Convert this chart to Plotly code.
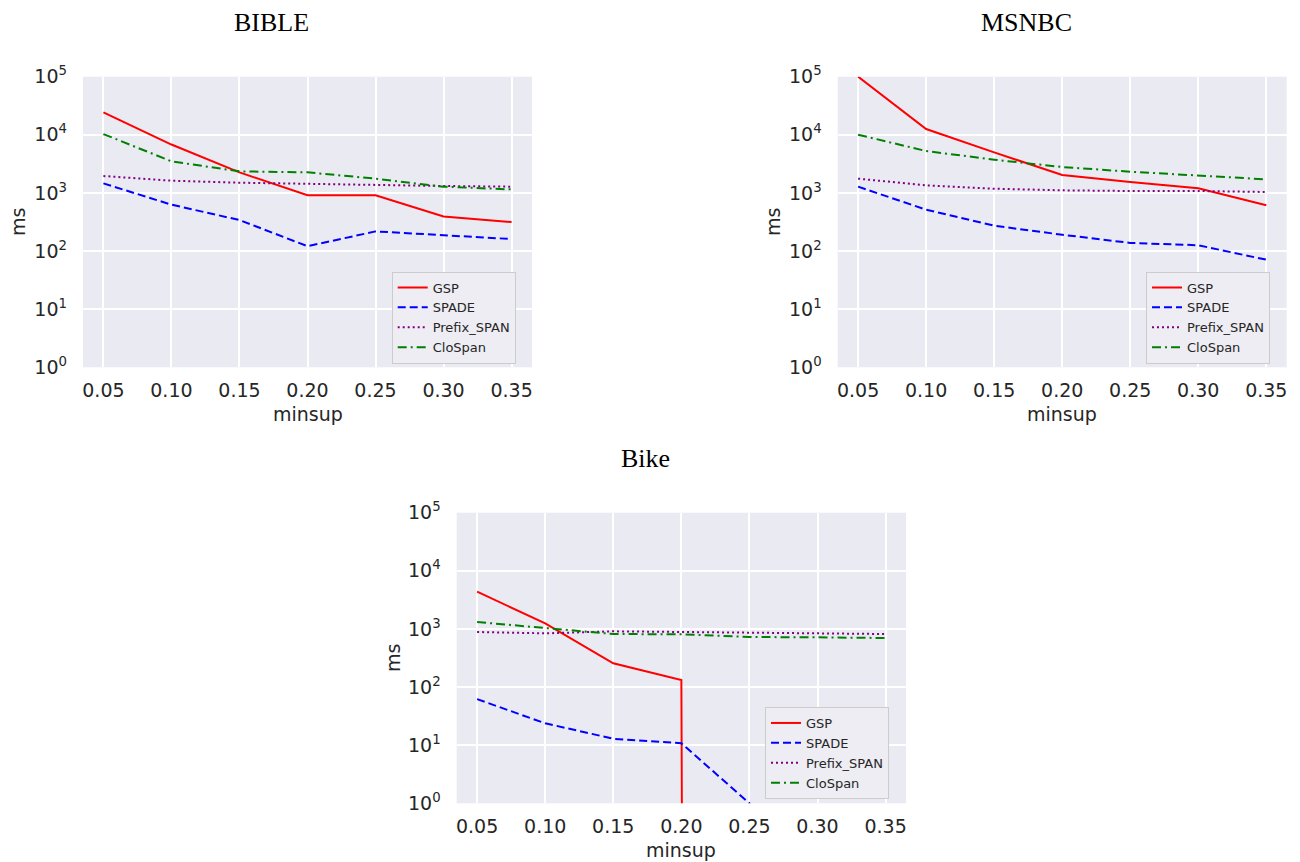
import plotly.graph_objects as go

# ---------------- data ----------------
minsup = [0.05, 0.10, 0.15, 0.20, 0.25, 0.30, 0.35]
x_tick_labels = ["0.05", "0.10", "0.15", "0.20", "0.25", "0.30", "0.35"]
y_tick_vals = [1, 10, 100, 1000, 10000, 100000]
y_tick_labels = ["10<sup>0</sup>", "10<sup>1</sup>", "10<sup>2</sup>",
                 "10<sup>3</sup>", "10<sup>4</sup>", "10<sup>5</sup>"]

algorithms = ["GSP", "SPADE", "Prefix_SPAN", "CloSpan"]
panel_titles = ["BIBLE", "MSNBC", "Bike"]

bible_gsp = [24300, 6800, 2260, 910, 910, 395, 316]
bible_spade = [1460, 628, 342, 121, 218, 189, 161]
bible_prefix = [1955, 1625, 1500, 1425, 1387, 1316, 1282]
bible_clospan = [10300, 3500, 2350, 2260, 1760, 1280, 1150]

msnbc_gsp = [100000, 12600, 4990, 2030, 1540, 1200, 612]
msnbc_spade = [1282, 515, 273, 191, 138, 126, 71]
msnbc_prefix = [1760, 1350, 1183, 1109, 1080, 1080, 1038]
msnbc_clospan = [10040, 5260, 3730, 2790, 2320, 2010, 1714]

bike_gsp = [4375, 1248, 256, 132, 0, 0, 0]
bike_spade = [62, 23.8, 12.9, 10.8, 1.0, 0, 0]
bike_prefix = [885, 840, 910, 885, 875, 840, 818]
bike_clospan = [1315, 1024, 818, 808, 727, 717, 698]

# ---------------- styling ----------------
OFF = 8                      # page body margin of the html page
W, H = 1300 - OFF, 862 - OFF
colors = {"GSP": "#FF0000", "SPADE": "#0000FF", "Prefix_SPAN": "#800080", "CloSpan": "#008000"}
dashes = {"GSP": "solid", "SPADE": "8px,4px", "Prefix_SPAN": "2px,3px", "CloSpan": "9px,4px,2px,4px"}
TXT = "#262626"
BG = "#EAEAF2"

# plot areas in window pixels: (left, right, top, bottom)
areas = [(83, 532, 76.7, 367.3), (837.7, 1286.7, 76.7, 367.3), (456.7, 906, 512.7, 803.3)]
legend_pos = [(515.7, 317.5), (1270, 317.5), (889, 753)]
title_pos = [(271, 22), (1026, 22), (645, 458)]
ms_x = [18, 773, 393]

panels = [
    [bible_gsp, bible_spade, bible_prefix, bible_clospan],
    [msnbc_gsp, msnbc_spade, msnbc_prefix, msnbc_clospan],
    [bike_gsp, bike_spade, bike_prefix, bike_clospan],
]


def px(xp):
    return (xp - OFF) / W


def py(yp):
    return 1 - (yp - OFF) / H


def clip_nonpositive(values):
    # emulate matplotlib's log-scale clipping of non-positive values
    return [v if v > 0 else 1e-300 for v in values]


fig = go.Figure()
layout = dict(
    width=W, height=H,
    margin=dict(l=0, r=0, t=0, b=0, pad=0, autoexpand=False),
    paper_bgcolor="white",
    plot_bgcolor=BG,
    font=dict(family="DejaVu Sans", color=TXT),
    annotations=[],
)

for i, (series_list, (l, r, t, b)) in enumerate(zip(panels, areas)):
    n = "" if i == 0 else str(i + 1)
    xa, ya = "x" + n, "y" + n
    leg = "legend" + n
    for name, vals in zip(algorithms, series_list):
        fig.add_trace(go.Scatter(
            x=minsup, y=clip_nonpositive(vals), name=name, mode="lines",
            line=dict(color=colors[name], width=2, dash=dashes[name]),
            xaxis=xa, yaxis=ya, legend=leg, showlegend=True,
        ))
    layout["xaxis" + n] = dict(
        domain=[px(l), px(r)], anchor=ya, range=[0.035, 0.365],
        tickmode="array", tickvals=minsup, ticktext=x_tick_labels,
        showgrid=True, gridcolor="white", gridwidth=1.5, zeroline=False,
        showline=False, ticks="", ticklabelstandoff=10, automargin=False,
        tickfont=dict(family="DejaVu Sans", size=19, color=TXT),
    )
    layout["yaxis" + n] = dict(
        domain=[py(b), py(t)], anchor=xa, type="log", range=[0, 5],
        tickmode="array", tickvals=y_tick_vals, ticktext=y_tick_labels,
        showgrid=True, gridcolor="white", gridwidth=1.5, zeroline=False,
        showline=False, ticks="", ticklabelstandoff=15, automargin=False,
        tickfont=dict(family="DejaVu Sans", size=19, color=TXT),
    )
    lx, ly = legend_pos[i]
    layout[leg] = dict(
        x=px(lx), y=py(ly), xanchor="right", yanchor="middle",
        xref="paper", yref="paper",
        bgcolor="#EDEDF3", bordercolor="#CCCCCC", borderwidth=1,
        font=dict(family="DejaVu Sans", size=13, color=TXT),
        itemwidth=30, tracegroupgap=0,
    )
    tx, ty = title_pos[i]
    layout["annotations"].append(dict(
        text=panel_titles[i], x=px(tx), y=py(ty), xref="paper", yref="paper",
        xanchor="center", yanchor="middle", showarrow=False,
        font=dict(family="Liberation Serif", size=26, color="black"),
    ))
    layout["annotations"].append(dict(
        text="minsup", x=px((l + r) / 2), y=py(b + 47), xref="paper", yref="paper",
        xanchor="center", yanchor="middle", showarrow=False,
        font=dict(family="DejaVu Sans", size=19, color=TXT),
    ))
    layout["annotations"].append(dict(
        text="ms", x=px(ms_x[i]), y=py((t + b) / 2), xref="paper", yref="paper",
        xanchor="center", yanchor="middle", showarrow=False, textangle=-90,
        font=dict(family="DejaVu Sans", size=19, color=TXT),
    ))

fig.update_layout(**layout)
fig.write_html("out.html")
